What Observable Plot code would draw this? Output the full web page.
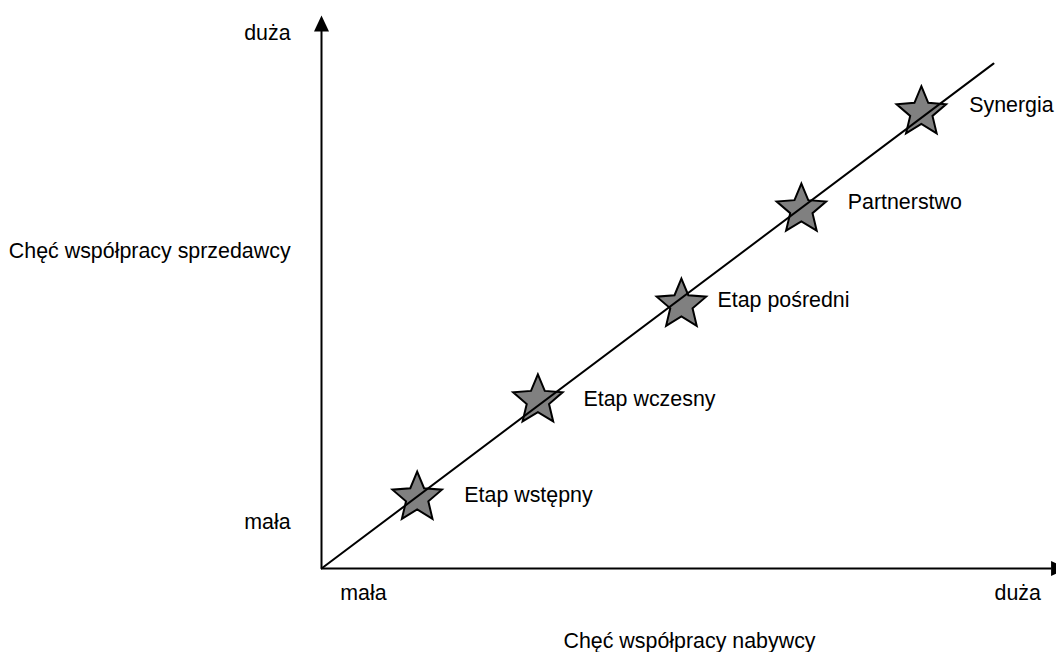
<!DOCTYPE html>
<html>
<head>
<meta charset="utf-8">
<script src="https://cdn.jsdelivr.net/npm/d3@7"></script>
<script src="https://cdn.jsdelivr.net/npm/@observablehq/plot@0.6"></script>
<style>
  html, body { margin: 0; padding: 0; background: #fff; }
</style>
</head>
<body>
<div id="chart"></div>
<script>
// Stages of buyer–seller cooperation
const stages = ["Etap wstępny", "Etap wczesny", "Etap pośredni", "Partnerstwo", "Synergia"];
const buyerWill = [13.0, 29.4, 48.9, 65.2, 81.5];   // x: Chęć współpracy nabywcy
const sellerWill = [12.8, 30.4, 47.7, 64.9, 82.5];  // y: Chęć współpracy sprzedawcy
const labelX = [19.4, 35.6, 53.8, 71.5, 88.0];
const labelY = [13.2, 30.7, 48.5, 66.2, 83.7];

// Trend line
const trendX = [0, 91.3];
const trendY = [0, 91.3];

// Axis texts
const lowLabel = "mała";
const highLabel = "duża";
const xTitle = "Chęć współpracy nabywcy";
const yTitle = "Chęć współpracy sprzedawcy";

const stars = stages.map((s, i) => ({ stage: s, x: buyerWill[i], y: sellerWill[i], lx: labelX[i], ly: labelY[i] }));
const trend = trendX.map((x, i) => ({ x, y: trendY[i] }));

const arrowHead = {
  draw(context) {
    context.moveTo(0, 0);
    context.lineTo(-7.5, 16);
    context.lineTo(7.5, 16);
    context.closePath();
  }
};

// 5-pointed star with slightly fatter arms than d3.symbolStar
const fatStar = {
  draw(context, size) {
    const R = Math.sqrt(size / Math.PI) * 1.68;
    const r = R * 0.45;
    for (let i = 0; i < 10; i++) {
      const rad = i % 2 === 0 ? R : r;
      const a = -Math.PI / 2 + i * Math.PI / 5;
      const px = rad * Math.cos(a), py = rad * Math.sin(a);
      if (i === 0) context.moveTo(px, py); else context.lineTo(px, py);
    }
    context.closePath();
  }
};

const font = "Arial, 'Liberation Sans', sans-serif";
const fs = 21.4;

const chart = Plot.plot({
  width: 1056,
  height: 652,
  x: { domain: [0, 100], range: [321, 1057], axis: null },
  y: { domain: [0, 100], range: [568, 15], axis: null },
  style: { fontFamily: font, fontSize: fs + "px", background: "#fff", color: "#000" },
  marks: [
    // axes
    Plot.ruleX([0], { y1: 0, y2: 97.2, stroke: "black", strokeWidth: 2 }),
    Plot.ruleY([0], { x1: 0, x2: 99.2, stroke: "black", strokeWidth: 2 }),
    Plot.dot([{ x: 0, y: 100 }], { x: "x", y: "y", symbol: arrowHead, fill: "black", stroke: "none", r: 5 }),
    Plot.dot([{ x: 101.3, y: 0 }], { x: "x", y: "y", symbol: arrowHead, fill: "black", stroke: "none", r: 5, rotate: 90 }),
    // axis labels
    Plot.text([highLabel], { x: -4.2, y: 96.9, text: d => d, textAnchor: "end", fontSize: fs, fill: "black" }),
    Plot.text([lowLabel], { x: -4.2, y: 8.3, text: d => d, textAnchor: "end", fontSize: fs, fill: "black" }),
    Plot.text([yTitle], { x: -4.2, y: 57.3, text: d => d, textAnchor: "end", fontSize: fs, fill: "black" }),
    Plot.text([lowLabel], { x: 5.7, y: -4.5, text: d => d, textAnchor: "middle", fontSize: fs, fill: "black" }),
    Plot.text([highLabel], { x: 94.6, y: -4.5, text: d => d, textAnchor: "middle", fontSize: fs, fill: "black" }),
    Plot.text([xTitle], { x: 50.0, y: -13.1, text: d => d, textAnchor: "middle", fontSize: fs, fill: "black" }),
    // stars
    Plot.dot(stars, { x: "x", y: "y", symbol: fatStar, r: 15.5, fill: "#808080", stroke: "black", strokeWidth: 2 }),
    // trend line on top
    Plot.line(trend, { x: "x", y: "y", stroke: "black", strokeWidth: 2 }),
    // stage labels
    Plot.text(stars, { x: "lx", y: "ly", text: "stage", textAnchor: "start", fontSize: fs, fill: "black" })
  ]
});

document.getElementById("chart").appendChild(chart);
</script>
</body>
</html>
